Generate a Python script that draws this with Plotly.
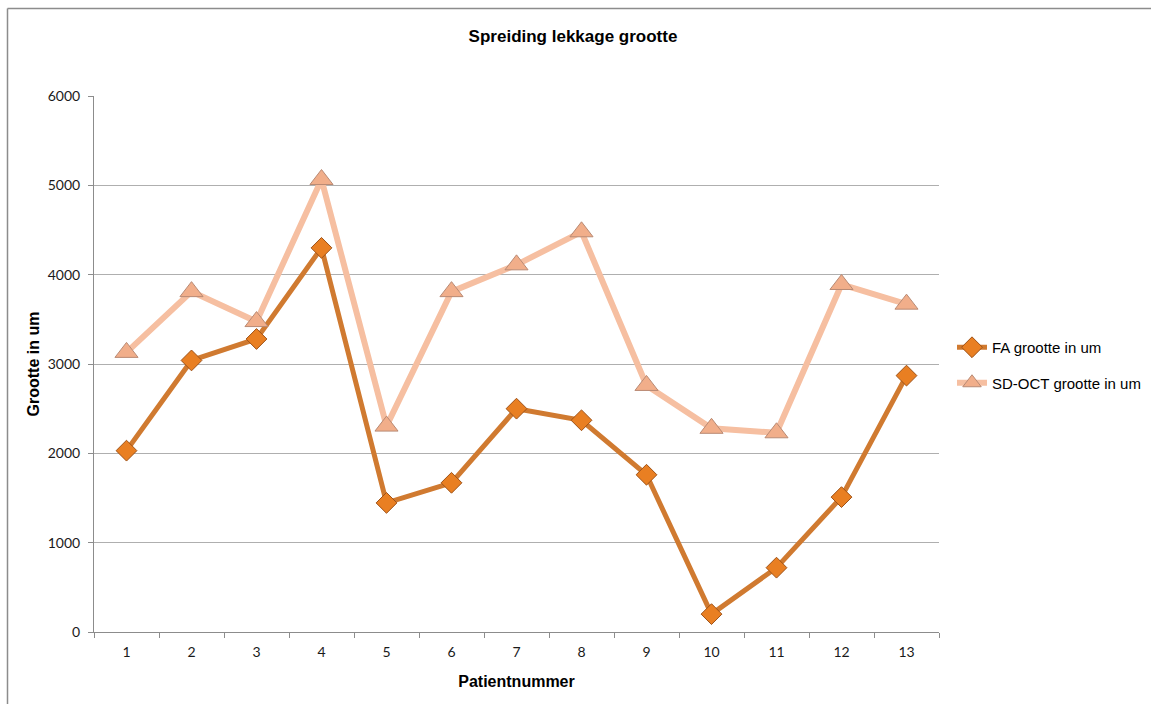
import plotly.graph_objects as go

patients = list(range(1, 14))
fa_values = [2030, 3040, 3280, 4300, 1445, 1670, 2500, 2370, 1760, 200, 720, 1510, 2870]
sdoct_values = [3130, 3810, 3475, 5065, 2305, 3810, 4110, 4480, 2760, 2280, 2230, 3890, 3670]
y_ticks = [0, 1000, 2000, 3000, 4000, 5000, 6000]

W, H = 1151, 704
L, R, T, B = 94, 939, 96, 632

fig = go.Figure()
fig.add_trace(go.Scatter(
    x=patients, y=fa_values, name="FA grootte in um", mode="lines+markers",
    line=dict(color="#D07A30", width=5),
    marker=dict(symbol="diamond", size=16, color="#E97F22",
                line=dict(color="#9E5218", width=1)),
    legendgroup="a",
))
fig.add_trace(go.Scatter(
    x=patients, y=sdoct_values, name="SD-OCT grootte in um", mode="lines+markers",
    line=dict(color="#F6BFA1", width=6),
    marker=dict(symbol="triangle-up", size=20, color="#F1AE8A",
                line=dict(color="#B98A74", width=1)),
    legendgroup="b",
))

def px_x(p):
    return (p - L) / (R - L)

def px_y(p):
    return (B - p) / (B - T)

# outer chart frame (top and left edges visible)
fig.add_shape(type="line", xref="paper", yref="paper",
              x0=px_x(7.5), x1=px_x(1151), y0=px_y(8.5), y1=px_y(8.5),
              line=dict(color="#8C8C8C", width=1.5), layer="below")
fig.add_shape(type="line", xref="paper", yref="paper",
              x0=px_x(7.5), x1=px_x(7.5), y0=px_y(8.5), y1=px_y(704),
              line=dict(color="#8C8C8C", width=1.5), layer="below")

fig.update_layout(
    width=W, height=H,
    margin=dict(l=L, r=W - R, t=T, b=H - B, autoexpand=False),
    paper_bgcolor="white", plot_bgcolor="white",
    title=dict(text="<b>Spreiding lekkage grootte</b>", xref="container", x=573 / W,
               xanchor="center", yref="container", y=1 - 36 / H, yanchor="middle",
               font=dict(family="Liberation Sans, Arial", size=17, color="#000000")),
    font=dict(family="Liberation Sans, Arial", color="#000000"),
    showlegend=True,
    legend=dict(xref="container", x=952 / W, xanchor="left",
                yref="container", y=1 - 365 / H, yanchor="middle",
                font=dict(family="Liberation Sans, Arial", size=15, color="#000000"),
                tracegroupgap=13, traceorder="grouped", bgcolor="rgba(0,0,0,0)",
                itemwidth=30),
    xaxis=dict(
        range=[0.5, 13.5], tickmode="array", tickvals=patients,
        ticktext=[str(p) for p in patients], ticks="",
        showline=True, linecolor="#8C8C8C", linewidth=1, showgrid=False,
        zeroline=False, ticklabelstandoff=7,
        tickfont=dict(family="Lato, Liberation Sans", size=14, color="#1A1A1A"),
        minor=dict(tickmode="array", tickvals=[i + 0.5 for i in range(0, 14)],
                   ticks="outside", ticklen=5, tickcolor="#8C8C8C", showgrid=False),
        title=dict(text="<b>Patientnummer</b>", standoff=17,
                   font=dict(family="Liberation Sans, Arial", size=16, color="#000000")),
    ),
    yaxis=dict(
        range=[0, 6000], tickmode="array", tickvals=y_ticks,
        ticks="outside", ticklen=5, tickcolor="#8C8C8C",
        showline=True, linecolor="#8C8C8C", linewidth=1, ticklabelstandoff=5,
        showgrid=True, gridcolor="#AFAFAF", gridwidth=1, zeroline=False,
        tickfont=dict(family="Lato, Liberation Sans", size=14, color="#1A1A1A"),
        title=dict(text="<b>Grootte in um</b>", standoff=4,
                   font=dict(family="Liberation Sans, Arial", size=16, color="#000000")),
    ),
)

fig.write_html("out.html")
